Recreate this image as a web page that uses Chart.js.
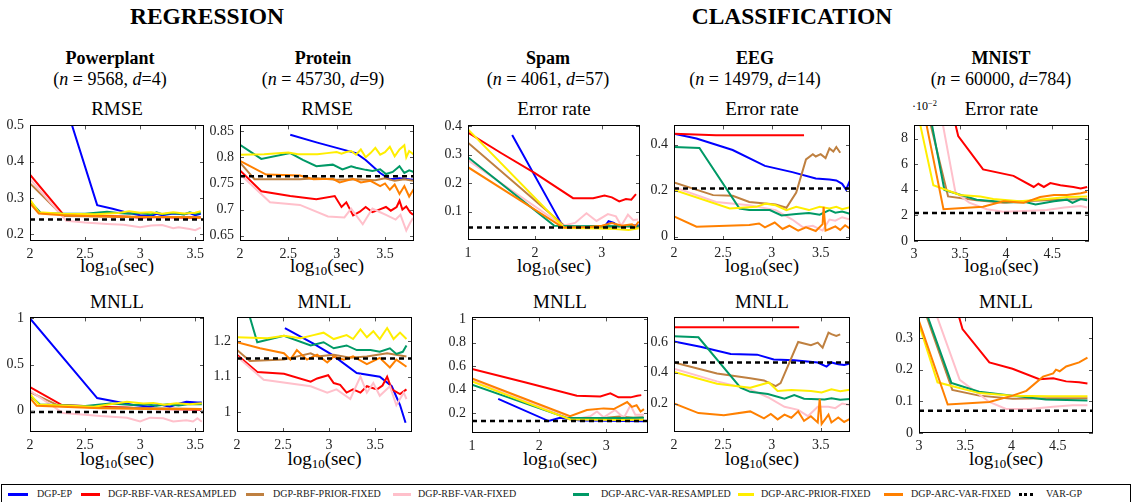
<!DOCTYPE html>
<html><head><meta charset="utf-8">
<script src="https://cdn.jsdelivr.net/npm/chart.js@4/dist/chart.umd.min.js"></script>
<style>
body{margin:0;width:1133px;height:502px;background:#fff;position:relative;overflow:hidden;font-family:"Liberation Serif","DejaVu Serif","Times New Roman","Nimbus Roman",FreeSerif,"Noto Serif",Tinos,Times,Georgia,serif;color:#000}
.t{position:absolute;white-space:nowrap;transform:translate(-50%,-50%);line-height:1}
.h{font-weight:bold;font-size:23.5px}
.d{font-weight:bold;font-size:18px}
.s{font-size:18px}
.m{font-size:19px}
sub{font-size:68%;vertical-align:-0.3em;line-height:0}
sup{font-size:70%;vertical-align:0.45em;line-height:0}
.wrap{position:absolute}
#legend{position:absolute;left:1px;top:484px;width:1130px;height:20px;border:1px solid #000;box-sizing:border-box}
.li{position:absolute;top:9px;height:0}
.lt{position:absolute;top:3px;font-size:10px;white-space:nowrap;line-height:12px;color:#222}
</style></head><body>
<div class="t h" style="left:207px;top:17px">REGRESSION</div>
<div class="t h" style="left:792px;top:17px">CLASSIFICATION</div>
<div id="texts"></div>
<div id="charts"></div>
<div id="legend"></div>
<script>
// ---------------- DATA ----------------
const seriesNames = ['DGP-EP','DGP-RBF-VAR-RESAMPLED','DGP-RBF-PRIOR-FIXED','DGP-RBF-VAR-FIXED','DGP-ARC-VAR-RESAMPLED','DGP-ARC-PRIOR-FIXED','DGP-ARC-VAR-FIXED','VAR-GP'];
const datasetNames = ['Powerplant','Protein','Spam','EEG','MNIST'];
const datasetInfo = [['9568','4'],['45730','9'],['4061','57'],['14979','14'],['60000','784']];
const metricTop = ['RMSE','RMSE','Error rate','Error rate','Error rate'];
const metricBottom = ['MNLL','MNLL','MNLL','MNLL','MNLL'];

const xTicksA = [2,2.5,3,3.5];
const xTicksSpam = [1,2,3];
const xTicksMnist = [3,3.5,4,4.5];
const yTicksPpRmse = [0.2,0.3,0.4,0.5];
const yTicksPrRmse = [0.65,0.7,0.75,0.8,0.85];
const yTicksSpErr = [0.1,0.2,0.3,0.4];
const yTicksEegErr = [0,0.2,0.4];
const yTicksMnErr = [0,2,4,6,8];
const yTicksPpMnll = [0,0.5,1];
const yTicksPrMnll = [1,1.1,1.2];
const yTicksSpMnll = [0.2,0.4,0.6,0.8,1];
const yTicksEegMnll = [0.2,0.4,0.6];
const yTicksMnMnll = [0,0.1,0.2,0.3];

// Powerplant RMSE
const ppRmseEP = [[2.33,0.55],[2.61,0.28],[2.75,0.27],[2.9,0.258],[3.0,0.252],[3.1,0.25],[3.15,0.256],[3.2,0.252],[3.3,0.257],[3.4,0.255],[3.45,0.258],[3.5,0.252],[3.55,0.256]];
const ppRmseRbfVarRes = [[2,0.364],[2.3,0.255],[2.5,0.252],[2.7,0.25],[2.9,0.248],[3.0,0.245],[3.1,0.247],[3.3,0.246],[3.5,0.245],[3.55,0.246]];
const ppRmseRbfPrior = [[2,0.34],[2.3,0.25],[2.5,0.249],[2.8,0.248],[3.0,0.247],[3.3,0.247],[3.55,0.247]];
const ppRmseRbfVarFix = [[2,0.352],[2.33,0.237],[2.5,0.232],[2.7,0.228],[2.85,0.226],[3.0,0.219],[3.1,0.224],[3.2,0.225],[3.3,0.216],[3.35,0.219],[3.45,0.214],[3.5,0.211],[3.55,0.218]];
const ppRmseArcVarRes = [[2,0.29],[2.1,0.258],[2.3,0.256],[2.5,0.256],[2.7,0.262],[2.8,0.258],[2.9,0.256],[3.0,0.258],[3.1,0.254],[3.15,0.26],[3.2,0.255],[3.3,0.258],[3.4,0.254],[3.45,0.26],[3.5,0.256],[3.55,0.259]];
const ppRmseArcPrior = [[2,0.295],[2.08,0.26],[2.3,0.256],[2.6,0.255],[2.8,0.258],[2.9,0.263],[3.0,0.259],[3.1,0.26],[3.2,0.256],[3.3,0.26],[3.4,0.257],[3.5,0.259],[3.55,0.263]];
const ppRmseArcVarFix = [[2,0.285],[2.08,0.257],[2.3,0.252],[2.6,0.249],[2.9,0.248],[3.1,0.247],[3.3,0.247],[3.55,0.245]];
const ppRmseGP = 0.24;

// Protein RMSE
const prRmseEP = [[2.52,0.843],[2.8,0.828],[3.0,0.818],[3.2,0.808],[3.3,0.795],[3.45,0.77],[3.55,0.758],[3.65,0.76],[3.79,0.757]];
const prRmseRbfVarRes = [[2,0.775],[2.22,0.735],[2.52,0.726],[2.79,0.72],[2.98,0.726],[3.05,0.705],[3.1,0.714],[3.17,0.689],[3.24,0.696],[3.3,0.705],[3.37,0.695],[3.44,0.7],[3.51,0.705],[3.56,0.698],[3.62,0.705],[3.65,0.717],[3.68,0.7],[3.72,0.706],[3.76,0.695],[3.79,0.69]];
const prRmseRbfPrior = [[2,0.79],[2.15,0.758],[2.4,0.758],[2.62,0.758],[2.8,0.76],[3.0,0.757],[3.2,0.758],[3.4,0.756],[3.5,0.76],[3.6,0.755],[3.7,0.758],[3.79,0.755]];
const prRmseRbfVarFix = [[2,0.768],[2.31,0.714],[2.62,0.709],[2.91,0.687],[3.08,0.685],[3.15,0.702],[3.27,0.672],[3.37,0.702],[3.45,0.695],[3.51,0.69],[3.61,0.681],[3.66,0.69],[3.72,0.66],[3.76,0.675],[3.79,0.684]];
const prRmseArcVarRes = [[2,0.824],[2.22,0.797],[2.52,0.808],[2.65,0.795],[2.79,0.783],[2.96,0.786],[3.06,0.777],[3.15,0.783],[3.2,0.78],[3.3,0.776],[3.37,0.774],[3.45,0.777],[3.51,0.768],[3.58,0.772],[3.65,0.783],[3.7,0.77],[3.75,0.775],[3.8,0.772]];
const prRmseArcPrior = [[2,0.805],[2.25,0.806],[2.5,0.809],[2.6,0.806],[2.8,0.806],[2.9,0.808],[3.0,0.81],[3.05,0.807],[3.1,0.81],[3.15,0.812],[3.2,0.805],[3.25,0.815],[3.3,0.8],[3.35,0.808],[3.4,0.818],[3.45,0.805],[3.5,0.81],[3.55,0.82],[3.6,0.802],[3.65,0.815],[3.7,0.823],[3.72,0.8],[3.75,0.812],[3.8,0.805]];
const prRmseArcVarFix = [[2,0.793],[2.27,0.767],[2.62,0.765],[2.76,0.758],[2.96,0.759],[3.03,0.752],[3.17,0.759],[3.25,0.752],[3.35,0.755],[3.45,0.745],[3.5,0.75],[3.55,0.738],[3.6,0.748],[3.65,0.73],[3.7,0.745],[3.75,0.725],[3.8,0.74]];
const prRmseGP = 0.764;

// Spam error rate
const spErrEP = [[1.66,0.369],[2.42,0.047],[2.6,0.045],[2.9,0.046],[3.05,0.05],[3.1,0.066],[3.18,0.06],[3.25,0.048],[3.4,0.05],[3.55,0.052]];
const spErrRbfVarRes = [[1,0.378],[1.5,0.305],[2.0,0.235],[2.57,0.147],[2.87,0.147],[3.04,0.156],[3.15,0.15],[3.26,0.136],[3.36,0.144],[3.44,0.142],[3.51,0.161]];
const spErrRbfPrior = [[1,0.342],[2.44,0.05],[2.7,0.046],[3.0,0.045],[3.3,0.048],[3.55,0.046]];
const spErrRbfVarFix = [[1,0.28],[2.42,0.05],[2.6,0.06],[2.77,0.094],[2.92,0.067],[3.09,0.091],[3.21,0.083],[3.29,0.05],[3.39,0.089],[3.47,0.07],[3.54,0.072]];
const spErrArcVarRes = [[1,0.291],[2.29,0.05],[2.6,0.048],[3.0,0.049],[3.3,0.048],[3.55,0.048]];
const spErrArcPrior = [[1,0.389],[2.44,0.042],[2.8,0.041],[3.1,0.04],[3.4,0.035],[3.55,0.041]];
const spErrArcVarFix = [[1,0.256],[2.42,0.044],[2.8,0.046],[3.0,0.05],[3.15,0.06],[3.3,0.05],[3.45,0.055],[3.5,0.048],[3.55,0.065]];
const spErrGP = 0.044;

// EEG error rate
const eegErrEP = [[2,0.448],[2.23,0.427],[2.6,0.377],[2.93,0.308],[3.21,0.281],[3.45,0.253],[3.59,0.249],[3.66,0.245],[3.72,0.23],[3.76,0.205],[3.8,0.245]];
const eegErrRbfVarRes = [[2,0.448],[2.43,0.441],[3.33,0.441]];
const eegErrRbfPrior = [[2,0.236],[2.4,0.181],[2.6,0.178],[2.77,0.151],[3.04,0.14],[3.15,0.126],[3.25,0.192],[3.35,0.336],[3.42,0.359],[3.45,0.349],[3.5,0.359],[3.55,0.342],[3.59,0.384],[3.63,0.37],[3.66,0.39],[3.7,0.365]];
const eegErrRbfVarFix = [[2,0.216],[2.43,0.151],[2.77,0.137],[3.04,0.116],[3.21,0.075],[3.32,0.041],[3.42,0.048],[3.52,0.027],[3.59,0.075],[3.65,0.07],[3.72,0.085],[3.8,0.075]];
const eegErrArcVarRes = [[2,0.39],[2.26,0.386],[2.67,0.123],[2.77,0.116],[2.98,0.116],[3.1,0.093],[3.25,0.099],[3.38,0.103],[3.49,0.096],[3.59,0.116],[3.65,0.105],[3.72,0.11],[3.8,0.1]];
const eegErrArcPrior = [[2,0.203],[2.57,0.123],[2.84,0.13],[2.94,0.144],[3.04,0.137],[3.15,0.116],[3.25,0.13],[3.38,0.116],[3.49,0.13],[3.59,0.123],[3.66,0.13],[3.72,0.12],[3.8,0.128]];
const eegErrArcVarFix = [[2,0.089],[2.23,0.044],[2.77,0.051],[2.87,0.058],[2.93,0.041],[3.03,0.062],[3.11,0.034],[3.18,0.048],[3.27,0.027],[3.35,0.041],[3.45,0.025],[3.52,0.055],[3.53,0.13],[3.55,0.027],[3.59,0.034],[3.65,0.045],[3.7,0.03],[3.75,0.05],[3.8,0.035]];
const eegErrGP = 0.21;

// MNIST error rate (x 1e-2)
const mnErrEP = [];
const mnErrRbfVarRes = [[3.42,10],[3.48,8.2],[3.75,5.59],[4.08,5.09],[4.3,4.22],[4.35,4.47],[4.41,4.22],[4.48,4.52],[4.59,4.35],[4.73,4.22],[4.81,4.1],[4.88,4.22]];
const mnErrRbfPrior = [[3.15,10],[3.37,3.48],[3.68,3.18],[3.97,2.98],[4.19,3.1],[4.55,3.23],[4.88,3.28]];
const mnErrRbfVarFix = [[3.29,10],[3.45,3.8],[3.6,3.0],[3.79,2.48],[3.97,2.29],[4.26,2.36],[4.44,2.43],[4.63,2.61],[4.75,2.7],[4.81,2.73],[4.88,2.61]];
const mnErrArcVarRes = [[3.17,10],[3.33,3.98],[3.68,3.23],[4.0,3.03],[4.22,3.03],[4.32,2.86],[4.52,3.1],[4.66,3.23],[4.72,2.98],[4.81,3.28],[4.88,3.18]];
const mnErrArcPrior = [[3.04,10],[3.21,4.35],[3.5,3.6],[3.72,3.48],[3.86,3.28],[4.15,3.1],[4.44,3.28],[4.66,3.43],[4.88,3.48]];
const mnErrArcVarFix = [[3.11,10],[3.32,2.48],[3.75,2.68],[3.97,3.1],[4.19,2.98],[4.37,3.43],[4.52,3.6],[4.66,3.6],[4.81,3.73],[4.88,3.85]];
const mnErrGP = 2.19;

// Powerplant MNLL
const ppMnllEP = [[2,1.0],[2.61,0.137],[2.94,0.061],[3.09,0.044],[3.18,0.068],[3.27,0.044],[3.36,0.078],[3.42,0.096],[3.52,0.089],[3.56,0.089]];
const ppMnllRbfVarRes = [[2,0.256],[2.29,0.061],[2.64,0.044],[2.88,0.034],[3.09,0.02],[3.3,0.015],[3.55,0.01]];
const ppMnllRbfPrior = [[2,0.2],[2.27,0.05],[2.6,0.035],[3.0,0.03],[3.3,0.025],[3.55,0.02]];
const ppMnllRbfVarFix = [[2,0.215],[2.3,-0.024],[2.64,-0.058],[2.88,-0.075],[3.0,-0.116],[3.09,-0.075],[3.21,-0.082],[3.3,-0.116],[3.42,-0.102],[3.48,-0.116],[3.52,-0.082],[3.56,-0.12]];
const ppMnllArcVarRes = [[2,0.164],[2.09,0.068],[2.48,0.05],[2.73,0.078],[2.94,0.061],[3.05,0.07],[3.15,0.055],[3.25,0.07],[3.35,0.058],[3.45,0.072],[3.56,0.07]];
const ppMnllArcPrior = [[2,0.18],[2.08,0.068],[2.58,0.044],[2.88,0.096],[3.03,0.078],[3.12,0.085],[3.22,0.065],[3.33,0.08],[3.45,0.07],[3.56,0.08]];
const ppMnllArcVarFix = [[2,0.137],[2.06,0.055],[2.64,0.027],[3.09,0.02],[3.3,0.02],[3.56,0.02]];
const ppMnllGP = -0.014;

// Protein MNLL
const prMnllEP = [[2.52,1.237],[2.83,1.193],[3.03,1.162],[3.3,1.11],[3.55,1.1],[3.68,1.073],[3.77,1.02],[3.83,0.97]];
const prMnllRbfVarRes = [[2,1.162],[2.22,1.113],[2.51,1.108],[2.8,1.086],[2.87,1.095],[2.99,1.104],[3.05,1.082],[3.12,1.077],[3.19,1.055],[3.26,1.064],[3.34,1.055],[3.41,1.073],[3.52,1.064],[3.58,1.075],[3.63,1.1],[3.68,1.064],[3.77,1.051],[3.84,1.064]];
const prMnllRbfPrior = [[2,1.175],[2.14,1.144],[2.51,1.148],[2.8,1.166],[2.87,1.157],[3.05,1.162],[3.23,1.153],[3.41,1.157],[3.63,1.166],[3.84,1.157]];
const prMnllRbfVarFix = [[2,1.157],[2.29,1.091],[2.8,1.073],[2.98,1.055],[3.08,1.064],[3.23,1.037],[3.34,1.1],[3.41,1.055],[3.48,1.082],[3.55,1.046],[3.66,1.073],[3.73,1.02],[3.81,1.055],[3.84,1.037]];
const prMnllArcVarRes = [[2.08,1.32],[2.22,1.197],[2.51,1.215],[2.8,1.188],[2.94,1.197],[3.05,1.18],[3.19,1.188],[3.3,1.175],[3.45,1.175],[3.55,1.17],[3.66,1.18],[3.73,1.164],[3.8,1.17],[3.84,1.188]];
const prMnllArcPrior = [[2,1.211],[2.33,1.208],[2.51,1.215],[2.69,1.208],[2.83,1.217],[2.94,1.224],[3.05,1.206],[3.19,1.217],[3.26,1.206],[3.34,1.233],[3.41,1.211],[3.48,1.228],[3.55,1.206],[3.63,1.237],[3.7,1.206],[3.77,1.224],[3.84,1.206]];
const prMnllArcVarFix = [[2,1.197],[2.25,1.18],[2.51,1.166],[2.58,1.148],[2.65,1.175],[2.76,1.148],[2.87,1.162],[2.98,1.14],[3.05,1.157],[3.16,1.148],[3.26,1.157],[3.41,1.135],[3.55,1.153],[3.66,1.126],[3.73,1.148],[3.84,1.128]];
const prMnllGP = 1.151;

// Spam MNLL
const spMnllEP = [[1.39,0.321],[2.14,0.132],[2.31,0.159],[2.61,0.137],[3.0,0.135],[3.3,0.133],[3.55,0.13]];
const spMnllRbfVarRes = [[1,0.577],[1.8,0.46],[2.56,0.348],[2.91,0.342],[3.06,0.369],[3.18,0.334],[3.36,0.334],[3.46,0.348],[3.52,0.353]];
const spMnllRbfPrior = [[1,0.489],[2.46,0.154],[2.8,0.155],[3.0,0.16],[3.2,0.17],[3.4,0.16],[3.55,0.165]];
const spMnllRbfVarFix = [[1,0.483],[2.51,0.146],[2.76,0.173],[2.86,0.213],[2.96,0.164],[3.13,0.226],[3.26,0.159],[3.36,0.267],[3.43,0.186],[3.56,0.186]];
const spMnllArcVarRes = [[1,0.442],[2.41,0.159],[2.8,0.157],[3.2,0.157],[3.56,0.16]];
const spMnllArcPrior = [[1,0.469],[2.46,0.146],[2.8,0.142],[3.2,0.14],[3.56,0.142]];
const spMnllArcVarFix = [[1,0.496],[2.46,0.173],[2.71,0.226],[2.96,0.24],[3.11,0.234],[3.31,0.294],[3.38,0.253],[3.45,0.267],[3.51,0.213],[3.56,0.234]];
const spMnllGP = 0.132;

// EEG MNLL
const eegMnllEP = [[2,0.604],[2.27,0.569],[2.58,0.522],[2.85,0.518],[3.02,0.487],[3.23,0.481],[3.47,0.467],[3.56,0.44],[3.61,0.467],[3.68,0.455],[3.74,0.45],[3.8,0.46]];
const eegMnllRbfVarRes = [[2,0.696],[3.28,0.696]];
const eegMnllRbfPrior = [[2,0.467],[2.44,0.395],[2.78,0.364],[2.92,0.35],[3.04,0.313],[3.09,0.333],[3.27,0.6],[3.4,0.579],[3.47,0.596],[3.52,0.563],[3.58,0.661],[3.61,0.651],[3.66,0.64],[3.7,0.65]];
const eegMnllRbfVarFix = [[2,0.426],[2.44,0.344],[2.78,0.292],[2.96,0.241],[3.13,0.179],[3.27,0.159],[3.37,0.118],[3.47,0.179],[3.58,0.179],[3.65,0.17],[3.72,0.2],[3.8,0.19]];
const eegMnllArcVarRes = [[2,0.637],[2.25,0.631],[2.68,0.303],[2.78,0.276],[2.96,0.262],[3.13,0.231],[3.23,0.255],[3.33,0.231],[3.54,0.227],[3.61,0.235],[3.7,0.225],[3.8,0.23]];
const eegMnllArcPrior = [[2,0.405],[2.44,0.329],[2.78,0.303],[2.97,0.337],[3.06,0.282],[3.2,0.288],[3.4,0.282],[3.51,0.272],[3.61,0.292],[3.7,0.28],[3.8,0.29]];
const eegMnllArcVarFix = [[2,0.2],[2.25,0.138],[2.51,0.124],[2.78,0.149],[2.92,0.104],[2.99,0.132],[3.06,0.097],[3.13,0.128],[3.2,0.108],[3.27,0.149],[3.33,0.087],[3.4,0.118],[3.47,0.077],[3.49,0.231],[3.51,0.067],[3.58,0.128],[3.61,0.077],[3.68,0.11],[3.74,0.08],[3.8,0.1]];
const eegMnllGP = 0.467;

// MNIST MNLL
const mnMnllEP = [];
const mnMnllRbfVarRes = [[3.4,0.4],[3.47,0.328],[3.76,0.223],[4.01,0.203],[4.3,0.17],[4.45,0.173],[4.59,0.163],[4.73,0.16],[4.82,0.156]];
const mnMnllRbfPrior = [[3.02,0.42],[3.36,0.136],[3.65,0.118],[4.01,0.108],[4.4,0.11],[4.82,0.11]];
const mnMnllRbfVarFix = [[3.13,0.42],[3.44,0.168],[3.76,0.098],[3.94,0.076],[4.19,0.076],[4.45,0.083],[4.66,0.088],[4.82,0.088]];
const mnMnllArcVarRes = [[3.03,0.42],[3.35,0.158],[3.65,0.13],[4.01,0.118],[4.37,0.106],[4.82,0.103]];
const mnMnllArcPrior = [[2.97,0.37],[3.2,0.16],[3.65,0.126],[4.01,0.118],[4.4,0.116],[4.82,0.116]];
const mnMnllArcVarFix = [[3,0.353],[3.31,0.09],[3.76,0.098],[4.01,0.118],[4.16,0.133],[4.34,0.178],[4.45,0.188],[4.48,0.2],[4.52,0.195],[4.59,0.21],[4.73,0.223],[4.82,0.238]];
const mnMnllGP = 0.07;

// ---------------- STYLE / LAYOUT ----------------
const COLORS = ['#0000ff','#ff0000','#bf8040','#ffc0cb','#009966','#ffee00','#ff8000','#000000'];
const FONT = '"Liberation Serif","DejaVu Serif","Times New Roman","Nimbus Roman",FreeSerif,"Noto Serif",Tinos,Times,Georgia,serif';

const panels = [
 {rect:[30,119,204,241], xr:[2,3.58], yr:[0.181,0.5], xt:xTicksA, yt:yTicksPpRmse, s:[ppRmseEP,ppRmseRbfVarRes,ppRmseRbfPrior,ppRmseRbfVarFix,ppRmseArcVarRes,ppRmseArcPrior,ppRmseArcVarFix], gp:ppRmseGP},
 {rect:[240,119,414,241], xr:[2,3.8], yr:[0.64,0.861], xt:xTicksA, yt:yTicksPrRmse, s:[prRmseEP,prRmseRbfVarRes,prRmseRbfPrior,prRmseRbfVarFix,prRmseArcVarRes,prRmseArcPrior,prRmseArcVarFix], gp:prRmseGP},
 {rect:[468,119,640,240], xr:[1,3.57], yr:[0,0.403], xt:xTicksSpam, yt:yTicksSpErr, s:[spErrEP,spErrRbfVarRes,spErrRbfPrior,spErrRbfVarFix,spErrArcVarRes,spErrArcPrior,spErrArcVarFix], gp:spErrGP},
 {rect:[674,119,850,240], xr:[2,3.8], yr:[-0.014,0.484], xt:xTicksA, yt:yTicksEegErr, s:[eegErrEP,eegErrRbfVarRes,eegErrRbfPrior,eegErrRbfVarFix,eegErrArcVarRes,eegErrArcPrior,eegErrArcVarFix], gp:eegErrGP},
 {rect:[914,119,1089,241], xr:[3,4.9], yr:[0,9.03], xt:xTicksMnist, yt:yTicksMnErr, s:[mnErrEP,mnErrRbfVarRes,mnErrRbfPrior,mnErrRbfVarFix,mnErrArcVarRes,mnErrArcPrior,mnErrArcVarFix], gp:mnErrGP},
 {rect:[30,311,204,432], xr:[2,3.58], yr:[-0.23,1.01], xt:xTicksA, yt:yTicksPpMnll, s:[ppMnllEP,ppMnllRbfVarRes,ppMnllRbfPrior,ppMnllRbfVarFix,ppMnllArcVarRes,ppMnllArcPrior,ppMnllArcVarFix], gp:ppMnllGP},
 {rect:[237,311,412,432], xr:[2,3.9], yr:[0.944,1.267], xt:xTicksA, yt:yTicksPrMnll, s:[prMnllEP,prMnllRbfVarRes,prMnllRbfPrior,prMnllRbfVarFix,prMnllArcVarRes,prMnllArcPrior,prMnllArcVarFix], gp:prMnllGP},
 {rect:[472,311,648,433], xr:[1,3.62], yr:[0.03,1.016], xt:xTicksSpam, yt:yTicksSpMnll, s:[spMnllEP,spMnllRbfVarRes,spMnllRbfPrior,spMnllRbfVarFix,spMnllArcVarRes,spMnllArcPrior,spMnllArcVarFix], gp:spMnllGP},
 {rect:[674,311,850,432], xr:[2,3.8], yr:[0.015,0.76], xt:xTicksA, yt:yTicksEegMnll, s:[eegMnllEP,eegMnllRbfVarRes,eegMnllRbfPrior,eegMnllRbfVarFix,eegMnllArcVarRes,eegMnllArcPrior,eegMnllArcVarFix], gp:eegMnllGP},
 {rect:[919,311,1093,433], xr:[3,4.88], yr:[0,0.365], xt:xTicksMnist, yt:yTicksMnMnll, s:[mnMnllEP,mnMnllRbfVarRes,mnMnllRbfPrior,mnMnllRbfVarFix,mnMnllArcVarRes,mnMnllArcPrior,mnMnllArcVarFix], gp:mnMnllGP}
];

const headerX = [110,323,548,755,1001];

// ---------------- TEXT ----------------
const texts = document.getElementById('texts');
function addText(html, cls, x, y){
  const d = document.createElement('div'); d.className = 't ' + cls; d.style.left = x + 'px'; d.style.top = y + 'px'; d.innerHTML = html; texts.appendChild(d);
}
datasetNames.forEach((n,i)=>{
  addText(n,'d',headerX[i],58);
  addText('(<i>n</i> = ' + datasetInfo[i][0] + ', <i>d</i>=' + datasetInfo[i][1] + ')','s',headerX[i],79);
});
panels.forEach((p,i)=>{
  const cx = (p.rect[0]+p.rect[2])/2;
  const top = i < 5;
  addText(top ? metricTop[i] : metricBottom[i-5], 'm', cx, top ? 108 : 301);
  addText('log<sub>10</sub>(sec)', 'm', cx, top ? 265 : 458);
});
{
  const d = document.createElement('div'); d.style.cssText = 'position:absolute;left:912px;top:100px;font-size:12px;line-height:1;white-space:nowrap'; d.innerHTML = '&middot;10<sup>&minus;2</sup>'; texts.appendChild(d);
}

// ---------------- CHARTS ----------------
const framePlugin = {
  id:'frame',
  afterDatasetsDraw(chart){
    const {ctx, chartArea:a, scales} = chart;
    ctx.save();
    ctx.strokeStyle = '#555'; ctx.lineWidth = 1;
    ctx.beginPath();
    scales.x.ticks.forEach(t=>{ const px = Math.round(scales.x.getPixelForValue(t.value))+0.5; ctx.moveTo(px,a.bottom); ctx.lineTo(px,a.bottom-4); ctx.moveTo(px,a.top); ctx.lineTo(px,a.top+4); });
    scales.y.ticks.forEach(t=>{ const py = Math.round(scales.y.getPixelForValue(t.value))+0.5; ctx.moveTo(a.left,py); ctx.lineTo(a.left+4,py); ctx.moveTo(a.right,py); ctx.lineTo(a.right-4,py); });
    ctx.stroke();
    ctx.strokeStyle = '#000';
    ctx.strokeRect(Math.round(a.left)+0.5, Math.round(a.top)+0.5, Math.round(a.right-a.left)-1, Math.round(a.bottom-a.top)-1);
    ctx.restore();
  }
};
const fmt = v => String(+(+v).toFixed(3));
const chartsEl = document.getElementById('charts');
panels.forEach(p=>{
  const [L,T,R,B] = p.rect;
  const padL = 44, padT = 8, padR = 10, padB = 26;
  const w = (R-L)+padL+padR, h = (B-T)+padT+padB;
  const wrap = document.createElement('div'); wrap.className='wrap';
  wrap.style.left=(L-padL)+'px'; wrap.style.top=(T-padT)+'px'; wrap.style.width=w+'px'; wrap.style.height=h+'px';
  const cv = document.createElement('canvas'); cv.width=w; cv.height=h; cv.style.width=w+'px'; cv.style.height=h+'px';
  wrap.appendChild(cv); chartsEl.appendChild(wrap);
  const datasets = p.s.map((arr,i)=>({
    label: seriesNames[i], data: arr.map(([x,y])=>({x,y})), borderColor: COLORS[i], backgroundColor: COLORS[i],
    borderWidth: 2, pointRadius: 0, showLine: true, fill: false, tension: 0, clip: 0, order: 7-i
  }));
  datasets.push({label: seriesNames[7], data:[{x:p.xr[0],y:p.gp},{x:p.xr[1],y:p.gp}], borderColor:'#000', borderWidth:2.5, borderDash:[5,4], pointRadius:0, showLine:true, fill:false, clip:0, order:0});
  new Chart(cv, {
    type:'scatter',
    data:{datasets},
    options:{
      responsive:false, animation:false, devicePixelRatio:1,
      layout:{padding:{left:0, top:padT, right:padR, bottom:0}},
      plugins:{legend:{display:false}, tooltip:{enabled:false}},
      scales:{
        x:{type:'linear', min:p.xr[0], max:p.xr[1], grid:{display:false, drawTicks:false}, border:{display:false},
           afterBuildTicks: s=>{ s.ticks = p.xt.map(v=>({value:v})); },
           afterFit: s=>{ s.height = padB; },
           ticks:{autoSkip:false, maxRotation:0, padding:5, color:'#222', font:{family:FONT, size:14}, callback:v=>fmt(v)}},
        y:{type:'linear', min:p.yr[0], max:p.yr[1], grid:{display:false, drawTicks:false}, border:{display:false},
           afterBuildTicks: s=>{ s.ticks = p.yt.map(v=>({value:v})); },
           afterFit: s=>{ s.width = padL; },
           ticks:{autoSkip:false, padding:6, color:'#222', font:{family:FONT, size:14}, callback:v=>fmt(v)}}
      }
    },
    plugins:[framePlugin]
  });
});

// ---------------- LEGEND ----------------
const legend = document.getElementById('legend');
const legendPos = [[7,27,36],[80,99,107],[245,263,272],[392,410,417],[572,588,600],[737,753,760],[883,902,910],[1018,1032,1045]];
seriesNames.forEach((n,i)=>{
  const [a,b,tx] = legendPos[i];
  const line = document.createElement('div'); line.className='li';
  line.style.left=(a-1)+'px'; line.style.width=(b-a)+'px';
  line.style.borderTop = (i===7 ? '3px dotted #000' : '3px solid ' + COLORS[i]);
  line.style.marginTop='-1px';
  legend.appendChild(line);
  const t = document.createElement('div'); t.className='lt'; t.style.left=(tx-1)+'px'; t.textContent=n; legend.appendChild(t);
});
</script>
</body></html>
